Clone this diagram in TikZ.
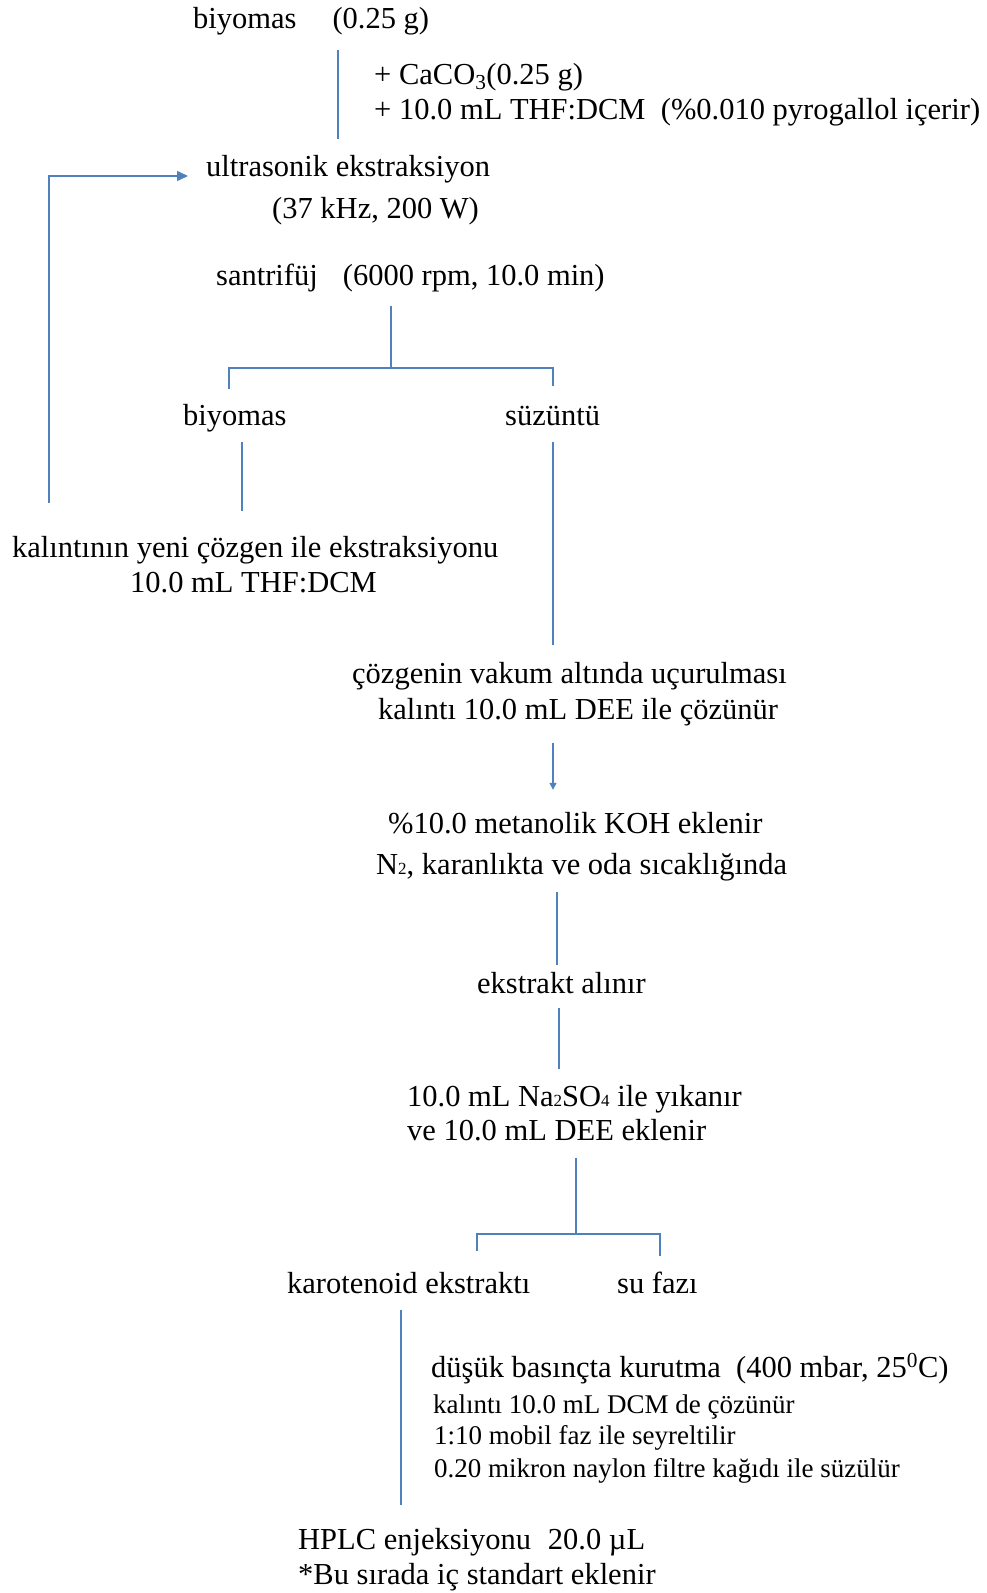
\documentclass[tikz,border=0pt]{standalone}
\usepackage{fontspec}
\setmainfont{Liberation Serif}
\usepackage{tikz}
\usetikzlibrary{arrows.meta}
\definecolor{lineBlue}{RGB}{79,129,189}
\newcommand\bigFont{\fontsize{30.5}{36}\selectfont}
\newcommand\smallFont{\fontsize{27}{32}\selectfont}
\newcommand\tinyIndex[1]{{\fontsize{17}{17}\selectfont #1}}

\begin{document}
\begin{tikzpicture}[x=1pt, y=-1pt,
        txt/.style={inner sep=0pt, anchor=base west, text height=23pt, text depth=7.6pt, font=\bigFont},
        smalltxt/.style={txt, font=\smallFont},
        link/.style={draw=lineBlue, line width=1.5pt}]
    \useasboundingbox (0,0) rectangle (987,1593);

    % columns and joints of the connectors
    \coordinate (colTop) at (338,0);
    \coordinate (colLoop) at (49,0);
    \coordinate (colBiyoL) at (229,0);
    \coordinate (colBiyo) at (242,0);
    \coordinate (colSuz) at (553,0);
    \coordinate (colKoh) at (557,0);
    \coordinate (colEks) at (559,0);
    \coordinate (colKaroL) at (477,0);
    \coordinate (colSu) at (660,0);
    \coordinate (colKaro) at (401,0);
    \coordinate (sanJoin) at (391,368);
    \coordinate (naJoin) at (576,1234);

    % text
    \node[txt] (top) at (193,28) {biyomas\hspace{1.18em}(0.25 g)};
    \node[txt] (add1) at (374,84) {+ CaCO\textsubscript{3}(0.25 g)};
    \node[txt] (add2) at (374,119) {+ 10.0 mL THF:DCM\hspace{0.5em}(\%0.010 pyrogallol içerir)};
    \node[txt] (ultra) at (206,176) {ultrasonik ekstraksiyon};
    \node[txt] (ultra2) at (272,218) {(37 kHz, 200 W)};
    \node[txt] (santri) at (216,285) {santrifüj\hspace{0.82em}(6000 rpm, 10.0 min)};
    \node[txt] (biyo) at (183,425) {biyomas};
    \node[txt] (suz) at (505,425) {süzüntü};
    \node[txt] (kal1) at (12,557) {kalıntının yeni çözgen ile ekstraksiyonu};
    \node[txt] (kal2) at (130,592) {10.0 mL THF:DCM};
    \node[txt] (coz1) at (352,683) {çözgenin vakum altında uçurulması};
    \node[txt] (coz2) at (378,719) {kalıntı 10.0 mL DEE ile çözünür};
    \node[txt] (koh1) at (388,833) {\%10.0 metanolik KOH eklenir};
    \node[txt] (koh2) at (376,874) {N\tinyIndex{2}, karanlıkta ve oda sıcaklığında};
    \node[txt] (eks) at (477,993) {ekstrakt alınır};
    \node[txt] (na1) at (407,1106) {10.0 mL Na\tinyIndex{2}SO\tinyIndex{4} ile yıkanır};
    \node[txt] (na2) at (407,1140) {ve 10.0 mL DEE eklenir};
    \node[txt] (karo) at (287,1293) {karotenoid ekstraktı};
    \node[txt] (su) at (617,1293) {su fazı};
    \node[txt] (dus) at (431,1377) {düşük basınçta kurutma\hspace{0.5em}(400 mbar, 25\textsuperscript{0}C)};
    \node[smalltxt] (dcm) at (433,1413) {kalıntı 10.0 mL DCM de çözünür};
    \node[smalltxt] (mobil) at (434,1444) {1:10 mobil faz ile seyreltilir};
    \node[smalltxt] (filtre) at (434,1477) {0.20 mikron naylon filtre kağıdı ile süzülür};
    \node[txt] (hplc) at (298,1549) {HPLC enjeksiyonu\hspace{0.55em}20.0 µL};
    \node[txt] (bu) at (298,1584) {*Bu sırada iç standart eklenir};

    % connectors
    \draw[link, shorten <=14pt, shorten >=14pt] (top.south -| colTop) -- (ultra.north -| colTop);
    \draw[link, -{Triangle[length=11pt,width=10pt]}, shorten <=31pt, shorten >=18pt] (kal1.north -| colLoop) |- (ultra.base west);
    \draw[link, shorten <=13pt] (santri.south -| sanJoin) -- (sanJoin);
    \draw[link, shorten <=13pt, shorten >=16pt] (biyo.north -| colBiyoL) |- (sanJoin) -| (suz.north -| colSuz);
    \draw[link, shorten <=9pt, shorten >=23pt] (biyo.south -| colBiyo) -- (kal1.north -| colBiyo);
    \draw[link, shorten <=9pt, shorten >=15pt] (suz.south -| colSuz) -- (coz1.north -| colSuz);
    \draw[link, -{Triangle[length=7pt,width=7pt]}, shorten <=16pt, shorten >=20pt] (coz2.south -| colSuz) -- (koh1.north -| colSuz);
    \draw[link, shorten <=10pt, shorten >=5pt] (koh2.south -| colKoh) -- (eks.north -| colKoh);
    \draw[link, shorten <=7pt, shorten >=14pt] (eks.south -| colEks) -- (na1.north -| colEks);
    \draw[link, shorten <=10pt] (na2.south -| naJoin) -- (naJoin);
    \draw[link, shorten <=19pt, shorten >=14pt] (karo.north -| colKaroL) |- (naJoin) -| (su.north -| colSu);
    \draw[link, shorten <=9pt, shorten >=21pt] (karo.south -| colKaro) -- (hplc.north -| colKaro);
\end{tikzpicture}
\end{document}
